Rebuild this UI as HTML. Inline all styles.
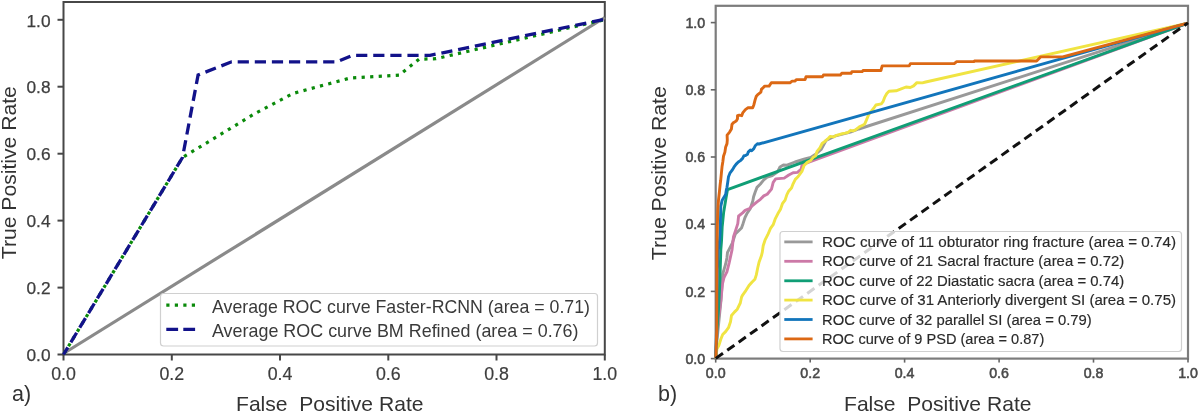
<!DOCTYPE html>
<html><head><meta charset="utf-8">
<style>
html,body{margin:0;padding:0;background:#fff;}
body{width:1200px;height:411px;overflow:hidden;}
svg{display:block;will-change:transform;}
text{font-family:"Liberation Sans",sans-serif;}
</style></head><body>
<svg width="1200" height="411" viewBox="0 0 1200 411">
<rect x="0" y="0" width="1200" height="411" fill="#fff"/>
<!-- LEFT PANEL -->
<rect x="63.5" y="2" width="541.3" height="352.5" fill="none" stroke="#474747" stroke-width="2"/>
<g stroke="#474747" stroke-width="2">
<line x1="57.5" y1="354.5" x2="63.5" y2="354.5"/><line x1="57.5" y1="287.6" x2="63.5" y2="287.6"/><line x1="57.5" y1="220.6" x2="63.5" y2="220.6"/><line x1="57.5" y1="153.7" x2="63.5" y2="153.7"/><line x1="57.5" y1="86.7" x2="63.5" y2="86.7"/><line x1="57.5" y1="19.8" x2="63.5" y2="19.8"/>
<line x1="63.5" y1="354.5" x2="63.5" y2="360.5"/><line x1="171.8" y1="354.5" x2="171.8" y2="360.5"/><line x1="280.0" y1="354.5" x2="280.0" y2="360.5"/><line x1="388.3" y1="354.5" x2="388.3" y2="360.5"/><line x1="496.5" y1="354.5" x2="496.5" y2="360.5"/><line x1="604.8" y1="354.5" x2="604.8" y2="360.5"/>
</g>
<g fill="none" stroke-linejoin="miter">
<line x1="63.5" y1="353.5" x2="604.8" y2="17.5" stroke="#8a8a8a" stroke-width="3.2"/>
<polyline points="63.5,354.5 182.5,157.5 255.0,113.5 293.0,93.5 350.0,78.0 399.0,75.2 419.0,59.2 436.0,58.7 604.8,19.6" stroke="#0a8a0a" stroke-width="3.2" stroke-dasharray="3.2 5.35" stroke-dashoffset="7.45" stroke-linecap="butt"/>
<polyline points="63.5,354.5 182.5,157.5 198.1,75.0 231.6,61.8 336.7,61.8 352.4,55.4 430.0,55.4 604.8,19.2" stroke="#12128a" stroke-width="3.3" stroke-dasharray="11.2 5.9" stroke-dashoffset="2.9" stroke-linecap="butt"/>
</g>
<g font-size="17.3" fill="#3d3d3d" stroke="#3d3d3d" stroke-width="0.25" text-anchor="end" transform="translate(0.5,0.3)">
<text x="50" y="361.0">0.0</text><text x="50" y="294.1">0.2</text><text x="50" y="227.1">0.4</text><text x="50" y="160.2">0.6</text><text x="50" y="93.2">0.8</text><text x="50" y="26.3">1.0</text>
</g>
<g font-size="17.8" fill="#3d3d3d" stroke="#3d3d3d" stroke-width="0.2" text-anchor="middle">
<text x="63.5" y="379.6">0.0</text><text x="171.8" y="379.6">0.2</text><text x="280.0" y="379.6">0.4</text><text x="388.3" y="379.6">0.6</text><text x="496.5" y="379.6">0.8</text><text x="604.8" y="379.6">1.0</text>
</g>
<text x="0" y="0" font-size="21" fill="#333" transform="translate(16.3,259.2) rotate(-90)" textLength="173" lengthAdjust="spacingAndGlyphs">True Positive Rate</text>
<text x="236" y="411" font-size="21" fill="#333" textLength="187.5" lengthAdjust="spacingAndGlyphs" xml:space="preserve">False  Positive Rate</text>
<text x="12" y="400.8" font-size="21.5" fill="#333">a)</text>
<!-- left legend -->
<rect x="160.5" y="293.5" width="437" height="52.5" rx="3" fill="#fff" stroke="#d0d0d0" stroke-width="1.2"/>
<line x1="166.3" y1="305.2" x2="195" y2="305.2" stroke="#0a8a0a" stroke-width="3.2" stroke-dasharray="3.2 5.3"/>
<line x1="166.3" y1="329.4" x2="195.4" y2="329.4" stroke="#12128a" stroke-width="3.3" stroke-dasharray="11.8 5.2"/>
<g font-size="17.8" fill="#3a3a3a">
<text x="212" y="313.3" textLength="378" lengthAdjust="spacingAndGlyphs">Average ROC curve Faster-RCNN (area = 0.71)</text>
<text x="212" y="337.3" textLength="366.5" lengthAdjust="spacingAndGlyphs">Average ROC curve BM Refined (area = 0.76)</text>
</g>

<!-- RIGHT PANEL -->
<rect x="715.7" y="5.8" width="472.3" height="352.8" fill="none" stroke="#7c7c7c" stroke-width="2.2"/>
<g stroke="#666" stroke-width="1.6">
<line x1="710.8" y1="358.6" x2="715.7" y2="358.6"/><line x1="710.8" y1="291.4" x2="715.7" y2="291.4"/><line x1="710.8" y1="224.2" x2="715.7" y2="224.2"/><line x1="710.8" y1="157.0" x2="715.7" y2="157.0"/><line x1="710.8" y1="89.8" x2="715.7" y2="89.8"/><line x1="710.8" y1="22.6" x2="715.7" y2="22.6"/>
<line x1="715.7" y1="358.6" x2="715.7" y2="362.6"/><line x1="810.2" y1="358.6" x2="810.2" y2="362.6"/><line x1="904.6" y1="358.6" x2="904.6" y2="362.6"/><line x1="999.1" y1="358.6" x2="999.1" y2="362.6"/><line x1="1093.5" y1="358.6" x2="1093.5" y2="362.6"/><line x1="1188.0" y1="358.6" x2="1188.0" y2="362.6"/>
</g>
<g fill="none" stroke-width="2.9" stroke-linejoin="round">
<polyline points="715.8,358.3 717.0,340.0 719.0,320.0 721.0,300.0 722.7,274.0 725.6,264.2 726.9,258.0 727.5,252.5 729.5,248.6 732.4,242.8 735.3,234.0 739.2,230.2 741.5,228.0 743.1,223.4 745.0,217.5 746.8,213.8 750.2,208.7 752.8,201.0 753.6,196.8 755.3,191.7 757.0,187.4 760.4,184.0 763.8,179.8 767.2,177.2 772.3,175.5 777.4,172.1 780.0,167.0 783.4,165.0 787.0,165.2 795.0,162.0 804.8,159.0 810.7,157.5 816.0,154.0 821.1,149.5 826.0,140.5 835.7,135.8 850.3,132.2 858.8,129.0 1187.8,23.1" stroke="#999999"/>
<polyline points="715.8,358.3 716.5,340.0 717.5,325.0 719.6,310.0 721.1,298.2 722.5,283.6 724.0,277.7 726.9,271.9 729.1,263.1 732.0,250.0 733.5,236.7 735.7,230.1 737.8,223.6 738.6,216.0 739.3,215.5 742.6,212.9 745.1,210.4 749.4,208.7 752.8,205.3 757.0,201.9 760.4,199.3 763.8,195.9 767.2,194.2 771.5,189.1 773.2,182.3 775.7,178.9 784.2,178.1 788.8,175.0 793.1,172.8 797.5,172.4 801.2,169.2 801.9,165.5 805.5,163.4 1187.8,23.1" stroke="#cc79a7"/>
<polyline points="715.8,358.3 717.0,330.0 718.5,310.0 719.5,290.0 720.2,270.0 720.8,250.0 721.5,241.1 722.2,226.5 723.7,211.9 725.9,198.8 727.5,189.6 1187.8,23.1" stroke="#109e76"/>
<polyline points="715.8,358.3 716.9,349.0 718.8,345.6 720.8,339.3 722.7,334.5 725.6,331.6 728.5,327.7 730.5,321.8 731.5,315.5 734.4,312.1 737.3,309.2 740.3,303.0 741.6,297.0 742.8,294.8 745.1,291.7 749.0,285.5 751.9,282.2 754.9,279.2 756.3,274.9 757.8,267.5 759.2,261.7 761.4,255.8 762.3,252.1 763.2,245.7 765.0,240.2 767.8,234.7 770.5,228.4 773.2,224.7 775.1,219.2 777.8,213.8 780.5,209.2 782.4,203.7 785.1,200.1 786.9,194.6 788.8,190.9 791.5,188.0 793.1,183.8 795.3,179.4 798.2,176.5 801.9,171.4 804.1,165.5 807.0,162.6 810.7,160.4 813.6,156.8 815.5,156.0 817.2,151.1 819.9,147.9 822.1,143.5 824.9,141.3 828.1,138.5 830.3,136.4 833.6,136.9 836.4,135.3 839.1,134.7 842.4,133.6 845.1,133.1 847.9,132.5 850.6,130.3 852.8,130.9 855.5,129.8 857.7,128.1 859.9,126.5 862.6,125.4 864.8,123.8 866.5,119.9 867.6,117.2 868.7,114.5 870.9,111.6 873.7,108.3 875.9,105.0 881.3,103.9 883.0,101.7 884.6,97.4 886.8,93.5 889.0,91.3 896.1,90.8 900.5,89.2 906.0,87.0 910.3,87.5 913.6,85.9 916.9,82.6 922.4,82.9 925.7,82.0 1187.8,23.1" stroke="#f0e442"/>
<polyline points="715.8,358.3 716.5,330.0 717.0,300.0 717.4,270.0 718.3,250.0 719.3,244.0 720.0,233.8 720.5,219.2 720.8,206.1 722.2,200.2 725.6,194.6 726.3,190.1 727.0,187.3 727.8,181.7 728.5,176.8 729.9,173.2 732.0,170.4 734.1,166.9 736.2,164.1 738.3,162.0 740.4,160.6 742.6,158.4 744.0,155.6 745.4,155.6 747.5,154.2 748.2,152.1 750.3,150.0 751.7,150.7 753.8,148.6 755.2,145.8 757.4,143.8 759.0,144.0 1187.8,23.1" stroke="#1275bb"/>
<polyline points="715.8,358.3 716.7,330.0 717.0,250.0 717.4,225.0 717.8,210.0 718.5,200.0 719.4,192.0 720.2,184.0 720.7,180.3 721.4,173.2 722.1,166.2 722.8,162.0 723.5,156.3 724.9,152.1 725.6,147.2 727.0,143.6 727.3,140.0 727.1,135.1 729.6,132.1 731.4,129.0 732.0,124.2 733.8,122.4 736.2,121.1 737.5,118.7 737.5,115.7 739.3,115.1 741.7,115.7 742.9,112.6 745.4,109.6 747.8,107.8 752.7,107.8 753.9,104.7 755.1,99.9 756.3,96.2 758.1,94.3 760.9,92.1 761.4,89.4 763.6,87.2 764.7,86.1 769.1,86.1 771.3,82.8 789.9,82.8 792.1,81.1 794.8,81.1 796.5,79.6 805.1,79.6 806.0,76.7 822.6,76.7 823.4,75.0 840.4,75.0 841.7,73.3 851.1,73.3 851.9,71.6 862.2,71.6 863.0,70.5 880.9,70.5 882.2,65.9 909.2,65.9 910.4,63.6 954.2,63.6 956.7,61.6 973.7,61.6 975.0,60.9 1036.6,61.0 1040.6,56.9 1062.7,56.9 1187.8,23.1" stroke="#dc6814"/>
</g>
<line x1="715.8" y1="358.4" x2="1188" y2="22.9" stroke="#111" stroke-width="3" stroke-dasharray="8.8 5.22"/>
<g font-size="14.2" fill="#4a4a4a" stroke="#4a4a4a" stroke-width="0.55" text-anchor="end">
<text x="705.2" y="363.7">0.0</text><text x="705.2" y="296.5">0.2</text><text x="705.2" y="229.3">0.4</text><text x="705.2" y="162.1">0.6</text><text x="705.2" y="94.9">0.8</text><text x="705.2" y="27.7">1.0</text>
</g>
<g font-size="14.2" fill="#4a4a4a" stroke="#4a4a4a" stroke-width="0.55" text-anchor="middle">
<text x="715.7" y="377.8">0.0</text><text x="810.2" y="377.8">0.2</text><text x="904.6" y="377.8">0.4</text><text x="999.1" y="377.8">0.6</text><text x="1093.5" y="377.8">0.8</text><text x="1188.0" y="377.8">1.0</text>
</g>
<text x="0" y="0" font-size="21" fill="#333" transform="translate(666,260.2) rotate(-90)" textLength="174" lengthAdjust="spacingAndGlyphs">True Positive Rate</text>
<text x="844" y="411" font-size="21" fill="#333" textLength="187.5" lengthAdjust="spacingAndGlyphs" xml:space="preserve">False  Positive Rate</text>
<text x="658" y="400.8" font-size="21.5" fill="#333">b)</text>
<!-- right legend -->
<rect x="780" y="231.5" width="401.5" height="120" rx="3" fill="#fff" fill-opacity="0.82" stroke="#d0d0d0" stroke-width="1.2"/>
<g stroke-width="2.8">
<line x1="784.3" y1="241.9" x2="812.6" y2="241.9" stroke="#999999"/>
<line x1="784.3" y1="261.3" x2="812.6" y2="261.3" stroke="#cc79a7"/>
<line x1="784.3" y1="280.8" x2="812.6" y2="280.8" stroke="#109e76"/>
<line x1="784.3" y1="300.1" x2="812.6" y2="300.1" stroke="#f0e442"/>
<line x1="784.3" y1="319.5" x2="812.6" y2="319.5" stroke="#1275bb"/>
<line x1="784.3" y1="338.9" x2="812.6" y2="338.9" stroke="#dc6814"/>
</g>
<g font-size="13.8" fill="#2a2a2a" stroke="#2a2a2a" stroke-width="0.15">
<text x="822" y="247" textLength="354" lengthAdjust="spacingAndGlyphs">ROC curve of 11 obturator ring fracture (area = 0.74)</text>
<text x="822" y="266.4" textLength="302.2" lengthAdjust="spacingAndGlyphs">ROC curve of 21 Sacral fracture (area = 0.72)</text>
<text x="822" y="285.8" textLength="302.2" lengthAdjust="spacingAndGlyphs">ROC curve of 22 Diastatic sacra (area = 0.74)</text>
<text x="822" y="305.2" textLength="354" lengthAdjust="spacingAndGlyphs">ROC curve of 31 Anteriorly divergent SI (area = 0.75)</text>
<text x="822" y="324.6" textLength="269.7" lengthAdjust="spacingAndGlyphs">ROC curve of 32 parallel SI (area = 0.79)</text>
<text x="822" y="344" textLength="222.3" lengthAdjust="spacingAndGlyphs">ROC curve of 9 PSD (area = 0.87)</text>
</g>
</svg>
</body></html>
